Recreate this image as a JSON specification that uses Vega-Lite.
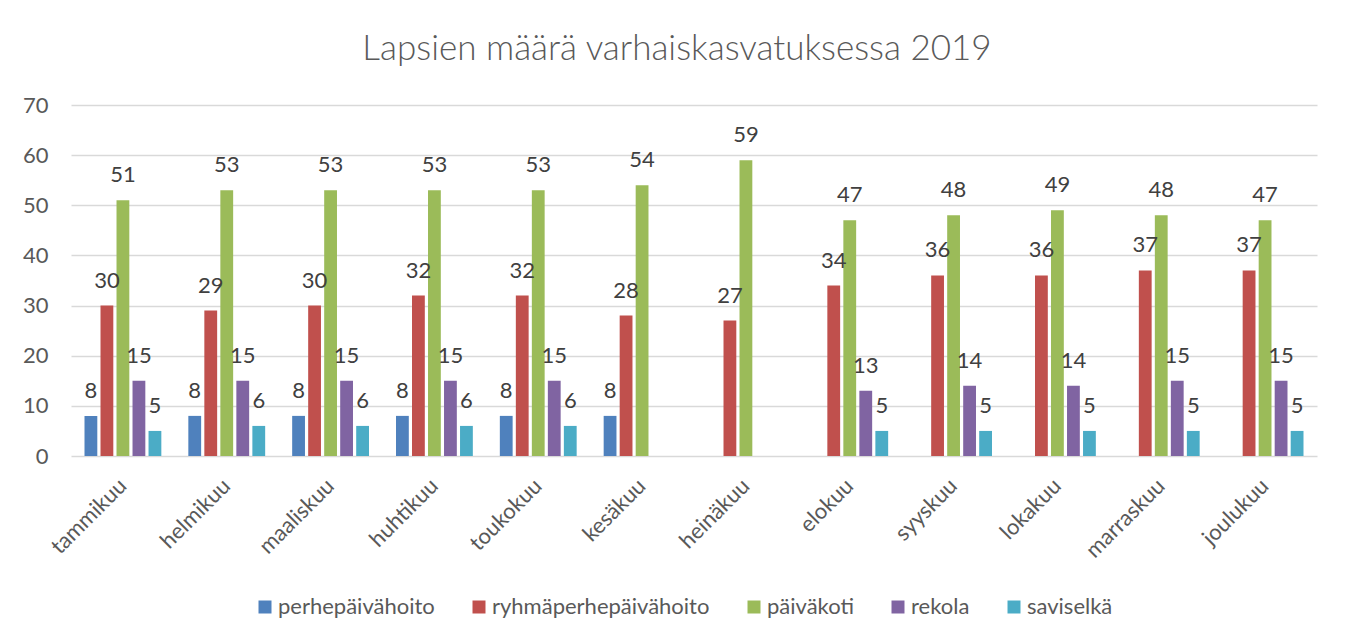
{
  "$schema": "https://vega.github.io/schema/vega-lite/v6.json",
  "autosize": "none",
  "width": 1246,
  "height": 351,
  "padding": {"left": 71, "top": 105, "right": 33, "bottom": 182},
  "background": "white",
  "title": {
    "text": "Lapsien määrä varhaiskasvatuksessa 2019",
    "font": "Lato",
    "fontSize": 35,
    "fontWeight": 300,
    "color": "#595959",
    "anchor": "middle",
    "dx": -17,
    "offset": 27
  },
  "data": {
    "values": [
      {"kuukausi": "tammikuu", "sarja": "perhepäivähoito", "arvo": 8},
      {"kuukausi": "tammikuu", "sarja": "ryhmäperhepäivähoito", "arvo": 30},
      {"kuukausi": "tammikuu", "sarja": "päiväkoti", "arvo": 51},
      {"kuukausi": "tammikuu", "sarja": "rekola", "arvo": 15},
      {"kuukausi": "tammikuu", "sarja": "saviselkä", "arvo": 5},
      {"kuukausi": "helmikuu", "sarja": "perhepäivähoito", "arvo": 8},
      {"kuukausi": "helmikuu", "sarja": "ryhmäperhepäivähoito", "arvo": 29},
      {"kuukausi": "helmikuu", "sarja": "päiväkoti", "arvo": 53},
      {"kuukausi": "helmikuu", "sarja": "rekola", "arvo": 15},
      {"kuukausi": "helmikuu", "sarja": "saviselkä", "arvo": 6},
      {"kuukausi": "maaliskuu", "sarja": "perhepäivähoito", "arvo": 8},
      {"kuukausi": "maaliskuu", "sarja": "ryhmäperhepäivähoito", "arvo": 30},
      {"kuukausi": "maaliskuu", "sarja": "päiväkoti", "arvo": 53},
      {"kuukausi": "maaliskuu", "sarja": "rekola", "arvo": 15},
      {"kuukausi": "maaliskuu", "sarja": "saviselkä", "arvo": 6},
      {"kuukausi": "huhtikuu", "sarja": "perhepäivähoito", "arvo": 8},
      {"kuukausi": "huhtikuu", "sarja": "ryhmäperhepäivähoito", "arvo": 32},
      {"kuukausi": "huhtikuu", "sarja": "päiväkoti", "arvo": 53},
      {"kuukausi": "huhtikuu", "sarja": "rekola", "arvo": 15},
      {"kuukausi": "huhtikuu", "sarja": "saviselkä", "arvo": 6},
      {"kuukausi": "toukokuu", "sarja": "perhepäivähoito", "arvo": 8},
      {"kuukausi": "toukokuu", "sarja": "ryhmäperhepäivähoito", "arvo": 32},
      {"kuukausi": "toukokuu", "sarja": "päiväkoti", "arvo": 53},
      {"kuukausi": "toukokuu", "sarja": "rekola", "arvo": 15},
      {"kuukausi": "toukokuu", "sarja": "saviselkä", "arvo": 6},
      {"kuukausi": "kesäkuu", "sarja": "perhepäivähoito", "arvo": 8},
      {"kuukausi": "kesäkuu", "sarja": "ryhmäperhepäivähoito", "arvo": 28},
      {"kuukausi": "kesäkuu", "sarja": "päiväkoti", "arvo": 54},
      {"kuukausi": "heinäkuu", "sarja": "ryhmäperhepäivähoito", "arvo": 27},
      {"kuukausi": "heinäkuu", "sarja": "päiväkoti", "arvo": 59},
      {"kuukausi": "elokuu", "sarja": "ryhmäperhepäivähoito", "arvo": 34},
      {"kuukausi": "elokuu", "sarja": "päiväkoti", "arvo": 47},
      {"kuukausi": "elokuu", "sarja": "rekola", "arvo": 13},
      {"kuukausi": "elokuu", "sarja": "saviselkä", "arvo": 5},
      {"kuukausi": "syyskuu", "sarja": "ryhmäperhepäivähoito", "arvo": 36},
      {"kuukausi": "syyskuu", "sarja": "päiväkoti", "arvo": 48},
      {"kuukausi": "syyskuu", "sarja": "rekola", "arvo": 14},
      {"kuukausi": "syyskuu", "sarja": "saviselkä", "arvo": 5},
      {"kuukausi": "lokakuu", "sarja": "ryhmäperhepäivähoito", "arvo": 36},
      {"kuukausi": "lokakuu", "sarja": "päiväkoti", "arvo": 49},
      {"kuukausi": "lokakuu", "sarja": "rekola", "arvo": 14},
      {"kuukausi": "lokakuu", "sarja": "saviselkä", "arvo": 5},
      {"kuukausi": "marraskuu", "sarja": "ryhmäperhepäivähoito", "arvo": 37},
      {"kuukausi": "marraskuu", "sarja": "päiväkoti", "arvo": 48},
      {"kuukausi": "marraskuu", "sarja": "rekola", "arvo": 15},
      {"kuukausi": "marraskuu", "sarja": "saviselkä", "arvo": 5},
      {"kuukausi": "joulukuu", "sarja": "ryhmäperhepäivähoito", "arvo": 37},
      {"kuukausi": "joulukuu", "sarja": "päiväkoti", "arvo": 47},
      {"kuukausi": "joulukuu", "sarja": "rekola", "arvo": 15},
      {"kuukausi": "joulukuu", "sarja": "saviselkä", "arvo": 5}
    ]
  },
  "encoding": {
    "x": {
      "field": "kuukausi",
      "type": "nominal",
      "sort": ["tammikuu", "helmikuu", "maaliskuu", "huhtikuu", "toukokuu", "kesäkuu", "heinäkuu", "elokuu", "syyskuu", "lokakuu", "marraskuu", "joulukuu"],
      "scale": {"paddingInner": 0.26, "paddingOuter": 0.13},
      "axis": {
        "title": null,
        "labelAngle": -45,
        "labelAlign": "right",
        "labelBaseline": "middle",
        "labelPadding": 26,
        "labelFont": "Lato",
        "labelFontSize": 22,
        "labelColor": "#595959",
        "labelLimit": 0,
        "ticks": false,
        "domain": false,
        "grid": false
      }
    },
    "xOffset": {
      "field": "sarja",
      "type": "nominal",
      "sort": ["perhepäivähoito", "ryhmäperhepäivähoito", "päiväkoti", "rekola", "saviselkä"],
      "scale": {"paddingInner": 0.2, "paddingOuter": 0}
    },
    "y": {
      "field": "arvo",
      "type": "quantitative",
      "scale": {"domain": [0, 70]},
      "axis": {
        "title": null,
        "values": [0, 10, 20, 30, 40, 50, 60, 70],
        "labelFont": "Lato",
        "labelFontSize": 22,
        "labelColor": "#595959",
        "labelPadding": 23,
        "ticks": false,
        "domain": false,
        "gridColor": "#d9d9d9",
        "gridWidth": 1.5
      }
    }
  },
  "layer": [
    {
      "mark": {"type": "bar"},
      "encoding": {
        "color": {
          "field": "sarja",
          "type": "nominal",
          "scale": {
            "domain": ["perhepäivähoito", "ryhmäperhepäivähoito", "päiväkoti", "rekola", "saviselkä"],
            "range": ["#4F81BD", "#C0504D", "#9BBB59", "#8064A2", "#4BACC6"]
          },
          "legend": {
            "title": null,
            "orient": "none",
            "direction": "horizontal",
            "legendX": 183,
            "legendY": 491,
            "symbolType": "square",
            "symbolSize": 169,
            "symbolStrokeWidth": 0,
            "labelFont": "Lato",
            "labelFontSize": 22,
            "labelColor": "#595959",
            "labelLimit": 0,
            "labelOffset": 2,
            "columnPadding": 33
          }
        }
      }
    },
    {
      "mark": {"type": "text", "baseline": "alphabetic", "dy": -18, "font": "Lato", "fontSize": 22, "color": "#404040"},
      "encoding": {
        "text": {"field": "arvo", "type": "quantitative"}
      }
    }
  ],
  "config": {
    "view": {"stroke": null}
  }
}
